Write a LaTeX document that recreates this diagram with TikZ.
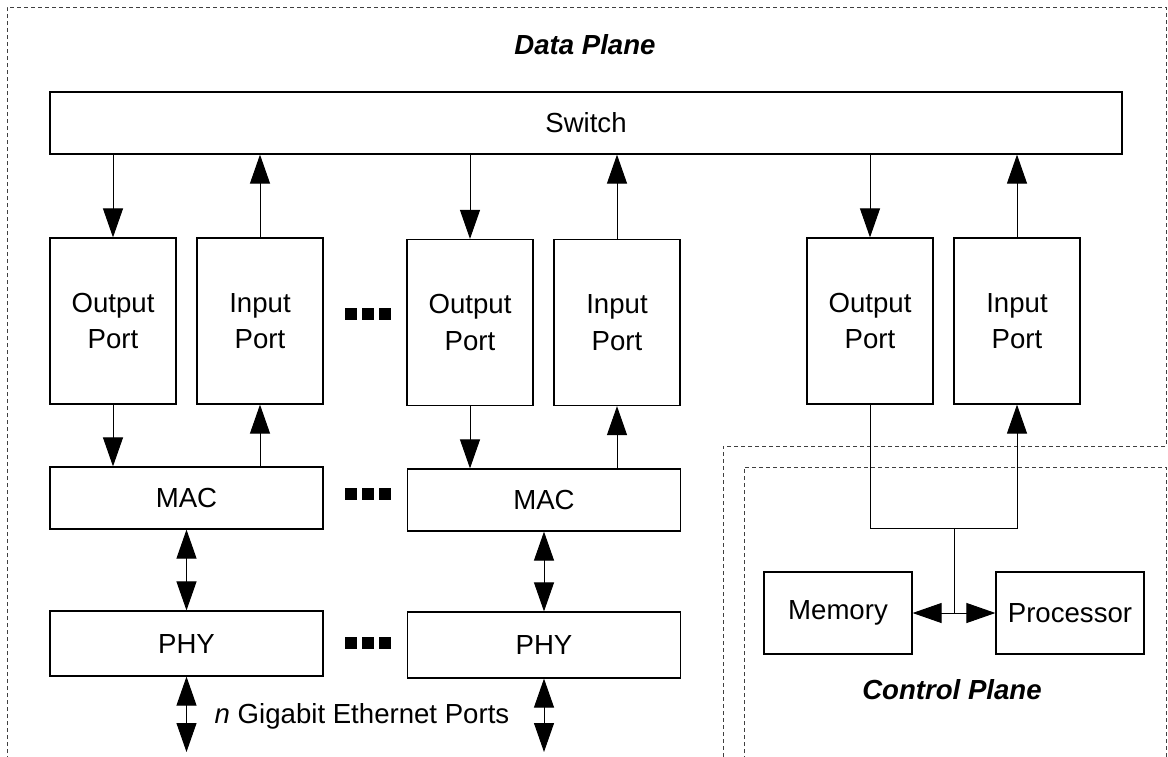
\documentclass[tikz,border=0pt]{standalone}
\usepackage{fontspec}
\setmainfont{Liberation Sans}
\usetikzlibrary{arrows.meta}
\newcommand\blklabel{\fontsize{13.8}{18.3}\selectfont}
\begin{document}
\begin{tikzpicture}[x=0.5pt,y=-0.5pt,
  blk/.style={draw, line width=0.6pt, inner sep=0pt, align=center, font=\blklabel},
  portbox/.style={blk, minimum width=63pt, minimum height=83pt},
  widebox/.style={blk, minimum width=136.5pt, minimum height=31pt},
  cpbox/.style={blk, minimum width=74pt, minimum height=41pt},
  arr/.style={line width=0.5pt, -{Triangle[length=14.5pt,width=10pt]}},
  darr/.style={line width=0.5pt, {Triangle[length=14.5pt,width=10pt]}-{Triangle[length=14.5pt,width=10pt]}},
  plane/.style={line width=0.5pt, dash pattern=on 2pt off 1.5pt, draw=black!75},
  ttl/.style={font=\fontsize{13.8}{16}\selectfont\bfseries\itshape},
  dotsq/.style={fill=black},
]
\useasboundingbox (0,0) rectangle (1168,756);

% plane outlines
\draw[plane] (7,760) -- (7,7) -- (1166,7) -- (1166,446) -- (723,446) -- (723,760);
\draw[plane] (744,760) -- (744,467) -- (1166,467) -- (1166,760);

% blocks
\node[blk, minimum width=536pt, minimum height=31pt] (sw) at (586,123) {Switch};
\node[portbox] (op1) at (113,321) {Output\\Port};
\node[portbox] (ip1) at (260,321) {Input\\Port};
\node[portbox] (op2) at (470,322.5) {Output\\Port};
\node[portbox] (ip2) at (617,322.5) {Input\\Port};
\node[portbox] (op3) at (870,321) {Output\\Port};
\node[portbox] (ip3) at (1017,321) {Input\\Port};
\node[widebox] (mac1) at (186.5,498) {MAC};
\node[widebox] (mac2) at (544,500) {MAC};
\node[widebox, minimum height=32.5pt] (phy1) at (186.5,643.5) {PHY};
\node[widebox, minimum height=33pt] (phy2) at (544,645) {PHY};
\node[cpbox] (mem) at (838,613) {Memory};
\node[cpbox] (proc) at (1070,613) {Processor};

% titles and labels
\node[ttl] (dp) at (585,45) {Data Plane};
\node[ttl] (cp) at (952,690) {Control Plane};
\node[font=\blklabel] (gbe) at (362,716) {\textit{n} Gigabit Ethernet Ports};

% ellipsis marks between port groups
\foreach \yy in {314,494,643}
  \foreach \dx in {-17,0,17}
    \fill[dotsq] (368+\dx-6,\yy-6) rectangle +(12,12);

\coordinate (bot) at (0,752);

% port group 1
\draw[arr] (sw.south -| op1) -- (op1.north);
\draw[arr] (ip1.north) -- (sw.south -| ip1);
\draw[arr] (op1.south) -- (mac1.north -| op1);
\draw[arr] (mac1.north -| ip1) -- (ip1.south);
\draw[darr] (mac1.south) -- (phy1.north);
\draw[darr] (phy1.south) -- (phy1.south |- bot);

% port group 2
\draw[arr] (sw.south -| op2) -- (op2.north);
\draw[arr] (ip2.north) -- (sw.south -| ip2);
\draw[arr] (op2.south) -- (mac2.north -| op2);
\draw[arr] (mac2.north -| ip2) -- (ip2.south);
\draw[darr] (mac2.south) -- (phy2.north);
\draw[darr] (phy2.south) -- (phy2.south |- bot);

% control port loop
\draw[arr] (sw.south -| op3) -- (op3.north);
\draw[arr] (ip3.north) -- (sw.south -| ip3);
\coordinate (tap) at (954,528);
\draw[arr] (op3.south) |- (ip3.south |- tap) -- (ip3.south);
\coordinate (hub) at (tap |- mem.east);
\draw[line width=0.5pt] (tap) -- (hub);
\draw[arr] (hub) -- (mem.east);
\draw[arr] (hub) -- (proc.west);
\end{tikzpicture}
\end{document}
